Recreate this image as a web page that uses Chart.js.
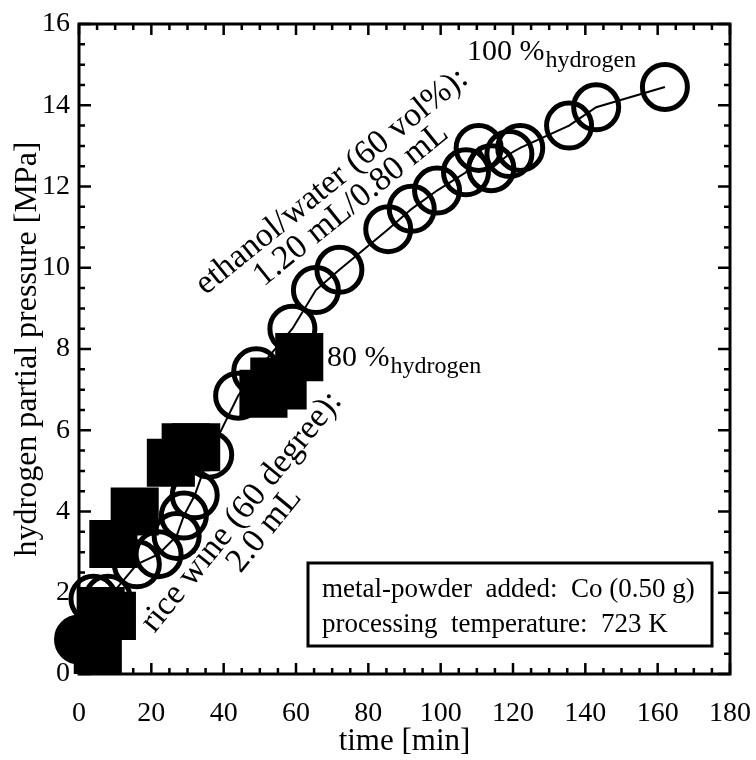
<!DOCTYPE html>
<html>
<head>
<meta charset="utf-8">
<script src="https://cdn.jsdelivr.net/npm/chart.js@4.4.1/dist/chart.umd.min.js"></script>
<style>
  html, body { margin: 0; padding: 0; background: #fff; }
  #wrap { width: 756px; height: 760px; }
</style>
</head>
<body>
<div id="wrap"><canvas id="h2Chart" width="756" height="760"></canvas></div>
<script>
var SERIF = "'Liberation Serif', 'Times New Roman', serif";

// ethanol/water (60 vol%) 1.20 mL / 0.80 mL -> open circles
var ethTime     = [0, 4, 8, 16, 22, 27, 29, 32, 36, 44, 49, 59, 65.5, 72, 85.5, 92, 99, 107, 110.5, 114, 119, 122, 135.5, 143, 162];
var ethPressure = [0.85, 1.85, 1.85, 2.7, 2.95, 3.4, 3.9, 4.4, 5.4, 6.85, 7.45, 8.5, 9.45, 9.95, 10.95, 11.45, 11.9, 12.35, 12.95, 12.45, 12.8, 12.95, 13.5, 13.95, 14.45];

// rice wine (60 degree) 2.0 mL -> filled squares
var riceTime     = [5.2, 6, 9.1, 9.5, 15.4, 25.4, 29.5, 32.4, 51, 54, 56.3, 60.9];
var ricePressure = [0.35, 1.55, 1.43, 3.2, 4.0, 5.2, 5.58, 5.58, 6.9, 7.2, 7.1, 7.8];

var xTicks = [0, 20, 40, 60, 80, 100, 120, 140, 160, 180];
var yTicks = [0, 2, 4, 6, 8, 10, 12, 14, 16];

function pts(xs, ys) {
  return xs.map(function (x, i) { return { x: x, y: ys[i] }; });
}

// frame with inward ticks on all four sides
var framePlugin = {
  id: 'frame',
  afterDatasetsDraw: function (chart) {
    var ctx = chart.ctx, a = chart.chartArea;
    var xs = chart.scales.x, ys = chart.scales.y;
    ctx.save();
    ctx.strokeStyle = '#000';
    ctx.lineWidth = 3;
    ctx.strokeRect(a.left, a.top, a.right - a.left, a.bottom - a.top);
    ctx.lineWidth = 2.5;
    ctx.beginPath();
    for (var t = 0; t <= 180; t += 5) {
      var px = xs.getPixelForValue(t);
      var len = (t % 20 === 0) ? 11 : 6;
      ctx.moveTo(px, a.bottom); ctx.lineTo(px, a.bottom - len);
      ctx.moveTo(px, a.top); ctx.lineTo(px, a.top + len);
    }
    for (var v = 0; v <= 16; v += 0.5) {
      var py = ys.getPixelForValue(v);
      var l2 = (v % 2 === 0) ? 12 : 6;
      ctx.moveTo(a.left, py); ctx.lineTo(a.left + l2, py);
      ctx.moveTo(a.right, py); ctx.lineTo(a.right - l2, py);
    }
    ctx.stroke();
    ctx.restore();
  }
};

function rotText(ctx, text, x, y, deg) {
  ctx.save();
  ctx.translate(x, y);
  ctx.rotate(deg * Math.PI / 180);
  ctx.textAlign = 'center';
  ctx.textBaseline = 'alphabetic';
  ctx.fillText(text, 0, 0);
  ctx.restore();
}

function subText(ctx, main, sub, x, y) {
  ctx.textAlign = 'left';
  ctx.textBaseline = 'alphabetic';
  ctx.font = '30px ' + SERIF;
  ctx.fillText(main, x, y);
  var w = ctx.measureText(main).width;
  ctx.font = '24px ' + SERIF;
  ctx.fillText(sub, x + w + 1, y + 7);
}

var notesPlugin = {
  id: 'notes',
  afterDraw: function (chart) {
    var ctx = chart.ctx;
    var X = function (v) { return chart.scales.x.getPixelForValue(v); };
    var Y = function (v) { return chart.scales.y.getPixelForValue(v); };
    ctx.save();
    ctx.fillStyle = '#000';
    ctx.font = '34px ' + SERIF;
    rotText(ctx, 'ethanol/water (60 vol%):', X(71.5), Y(11.95), -39);
    rotText(ctx, '1.20 mL/0.80 mL', X(76.8), Y(11.38), -39);
    rotText(ctx, 'rice wine (60 degree):', X(46.9), Y(3.85), -51);
    rotText(ctx, '2.0 mL', X(53.2), Y(3.4), -51);
    subText(ctx, '80 %', 'hydrogen', X(68.6), Y(7.59));
    subText(ctx, '100 %', 'hydrogen', X(107.3), Y(15.12));

    // condition box
    var bx = 308, by = 563, bw = 404, bh = 83;
    ctx.fillStyle = '#fff';
    ctx.fillRect(bx, by, bw, bh);
    ctx.strokeStyle = '#000';
    ctx.lineWidth = 3;
    ctx.strokeRect(bx, by, bw, bh);
    ctx.fillStyle = '#000';
    ctx.font = '27px ' + SERIF;
    ctx.textAlign = 'left';
    ctx.textBaseline = 'middle';
    ctx.fillText('metal-powder  added:  Co (0.50 g)', bx + 14, by + 27);
    ctx.fillText('processing  temperature:  723 K', bx + 14, by + 62);
    ctx.restore();
  }
};

var ctx = document.getElementById('h2Chart').getContext('2d');
var h2Chart = new Chart(ctx, {
  type: 'scatter',
  data: {
    datasets: [{
      label: 'rice wine',
      data: pts(riceTime, ricePressure),
      showLine: false,
      pointStyle: 'rect',
      pointRadius: 34,
      pointHoverRadius: 34,
      pointBackgroundColor: '#000',
      pointBorderWidth: 0,
      clip: { left: false, top: false, right: false, bottom: 0 }
    }, {
      label: 'ethanol/water',
      data: pts(ethTime, ethPressure),
      showLine: true,
      borderColor: '#000',
      borderWidth: 2,
      pointStyle: 'circle',
      pointRadius: 22.5,
      pointHoverRadius: 22.5,
      pointBorderColor: '#000',
      pointBorderWidth: 5,
      pointBackgroundColor: ethTime.map(function (t, i) { return i === 0 ? '#000' : 'rgba(0,0,0,0)'; }),
      clip: { left: false, top: false, right: false, bottom: 0 }
    }]
  },
  options: {
    responsive: false,
    animation: false,
    devicePixelRatio: 1,
    layout: { autoPadding: false, padding: { top: 24, right: 26, left: 0, bottom: 0 } },
    plugins: { legend: { display: false }, tooltip: { enabled: false } },
    scales: {
      x: {
        type: 'linear',
        min: 0,
        max: 180,
        afterBuildTicks: function (s) { s.ticks = xTicks.map(function (v) { return { value: v }; }); },
        afterFit: function (s) { s.height = 86; s.paddingLeft = 0; s.paddingRight = 0; },
        grid: { display: false, drawTicks: false },
        border: { display: false },
        ticks: { color: '#000', font: { family: SERIF, size: 28 }, padding: 23, maxRotation: 0 },
        title: { display: true, text: 'time [min]', color: '#000', font: { family: SERIF, size: 31 }, padding: 0 }
      },
      y: {
        type: 'linear',
        min: 0,
        max: 16,
        afterBuildTicks: function (s) { s.ticks = yTicks.map(function (v) { return { value: v }; }); },
        afterFit: function (s) { s.width = 79; s.paddingTop = 0; s.paddingBottom = 0; },
        grid: { display: false, drawTicks: false },
        border: { display: false },
        ticks: { color: '#000', font: { family: SERIF, size: 28 }, padding: 9 },
        title: { display: true, text: 'hydrogen partial pressure [MPa]', color: '#000', font: { family: SERIF, size: 32 }, padding: { top: 8, bottom: 0 } }
      }
    }
  },
  plugins: [framePlugin, notesPlugin]
});
</script>
</body>
</html>
